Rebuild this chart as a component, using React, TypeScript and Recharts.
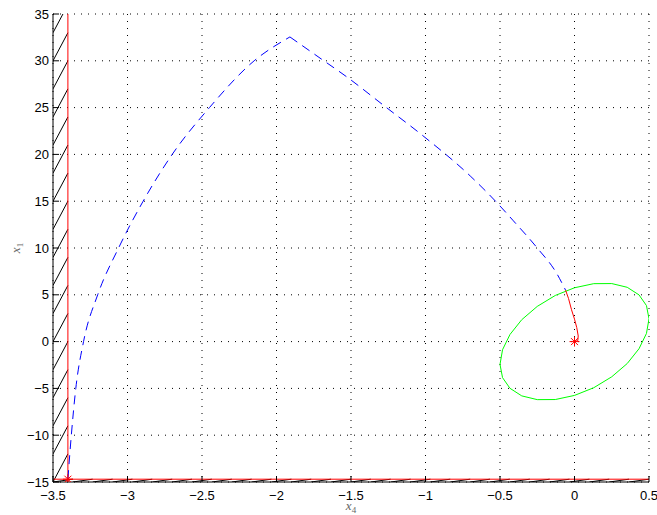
import React from 'react';
import { ComposedChart, Line, Scatter, XAxis, YAxis, CartesianGrid, ReferenceLine } from 'recharts';

// axis ticks
const xTicks = [-3.5, -3, -2.5, -2, -1.5, -1, -0.5, 0, 0.5];
const yTicks = [-15, -10, -5, 0, 5, 10, 15, 20, 25, 30, 35];

// constraint bounds
const x4Min = -3.4;
const x1Min = -14.7;

// hatch start positions
const leftHatchY = [-15, -12, -9, -6, -3, 0, 3, 6, 9, 12, 15, 18, 21, 24, 27, 30, 33];
const leftHatchRise = 3;
const bottomHatchX = [
  -3.5, -3.367, -3.233, -3.1, -2.967, -2.833, -2.7, -2.567, -2.433, -2.3, -2.167, -2.033, -1.9, -1.767, -1.633,
  -1.5, -1.367, -1.233, -1.1, -0.967, -0.833, -0.7, -0.567, -0.433, -0.3, -0.167, -0.033, 0.1, 0.233, 0.367,
];
const bottomHatchRun = 0.133;

// blue dashed trajectory, rising part then falling part
const blueUpX = [-3.4, -3.377, -3.347, -3.295, -3.2, -3.06, -2.895, -2.7, -2.45, -2.15, -1.91];
const blueUpY = [-14.7, -10, -5, 0, 5, 10, 15, 20, 25, 30, 32.55];
const blueDownX = [-1.91, -1.7, -1.53, -1.27, -1.01, -0.7, -0.53, -0.41, -0.25, -0.12, -0.06];
const blueDownY = [32.55, 30.2, 28.3, 25.1, 21.9, 17.7, 15, 12.9, 10, 7.3, 5.5];

// red final segment
const redX = [-0.06, -0.04, -0.02, 0.0, 0.015, 0.025, 0.022, 0.0];
const redY = [5.5, 4.6, 3.4, 2.4, 1.5, 0.6, 0.1, 0.0];

// green ellipse (terminal set)
const ellX = [0.5, 0.483, 0.433, 0.354, 0.25, 0.129, 0, -0.129, -0.25, -0.354, -0.433, -0.483, -0.5,
  -0.483, -0.433, -0.354, -0.25, -0.129, 0, 0.129, 0.25, 0.354, 0.433, 0.483, 0.5];
const ellY = [2.44, 3.85, 4.99, 5.8, 6.2, 6.19, 5.75, 4.93, 3.76, 2.34, 0.76, -0.87, -2.44,
  -3.85, -4.99, -5.8, -6.2, -6.19, -5.75, -4.93, -3.76, -2.34, -0.76, 0.87, 2.44];

// star markers
const starX = [0, -3.4];
const starY = [0, -14.7];

const zip = (xs: number[], ys: number[]) => xs.map((x, i) => ({ x, y: ys[i] }));
const blueUp = zip(blueUpX, blueUpY);
const blueDown = zip(blueDownX, blueDownY);
const redData = zip(redX, redY);
const ellData = zip(ellX, ellY);
const starData = zip(starX, starY);

const fmt = (v: number) => String(v).replace('-', '\u2212');
const tickFont = { fill: '#000', fontSize: 13, fontFamily: 'Liberation Sans, Arial, sans-serif' };

const Asterisk = (props: any) => {
  const { cx, cy } = props;
  const r = 5;
  const d = 3.5;
  return (
    <g stroke="#ff0000" strokeWidth={1}>
      <line x1={cx - r} y1={cy} x2={cx + r} y2={cy} />
      <line x1={cx} y1={cy - r} x2={cx} y2={cy + r} />
      <line x1={cx - d} y1={cy - d} x2={cx + d} y2={cy + d} />
      <line x1={cx - d} y1={cy + d} x2={cx + d} y2={cy - d} />
    </g>
  );
};

const XLabel = (props: any) => {
  const vb = props.viewBox || { x: 53, y: 482, width: 596, height: 33 };
  return (
    <text x={vb.x + vb.width / 2} y={vb.y + 28} textAnchor="middle" fill="#666"
      fontFamily="Liberation Serif, serif" fontStyle="italic" fontSize={13}>
      x<tspan fontSize={9} dy={3} fontStyle="normal">4</tspan>
    </text>
  );
};

const YLabel = (props: any) => {
  const vb = props.viewBox || { x: 8, y: 14, width: 45, height: 468 };
  const cx = vb.x + 12;
  const cy = vb.y + vb.height / 2;
  return (
    <text x={cx} y={cy} transform={`rotate(-90 ${cx} ${cy})`} textAnchor="middle" fill="#666"
      fontFamily="Liberation Serif, serif" fontStyle="italic" fontSize={13}>
      x<tspan fontSize={9} dy={3} fontStyle="normal">1</tspan>
    </text>
  );
};

export default function App() {
  return (
    <div style={{ width: 657, height: 515 }}>
      <style>{'body { margin: 0; overflow: hidden; }'}</style>
      <ComposedChart width={657} height={515} margin={{ top: 14, right: 8, left: 8, bottom: 0 }}>
        <CartesianGrid stroke="#000" strokeDasharray="1 6" />
        <XAxis type="number" dataKey="x" domain={[-3.5, 0.5]} ticks={xTicks} allowDataOverflow
          height={33} tickSize={-6} tickMargin={15} tickFormatter={fmt} tick={tickFont}
          stroke="#000" interval={0} label={{ content: XLabel }} />
        <XAxis xAxisId="top" orientation="top" type="number" dataKey="x" domain={[-3.5, 0.5]} ticks={xTicks}
          allowDataOverflow height={0} tickSize={-6} tick={false} stroke="#000" interval={0} />
        <YAxis type="number" dataKey="y" domain={[-15, 35]} ticks={yTicks} allowDataOverflow
          width={45} tickSize={-6} tickMargin={10} tickFormatter={fmt} tick={tickFont}
          stroke="#000" interval={0} label={{ content: YLabel }} />
        <YAxis yAxisId="right" orientation="right" type="number" dataKey="y" domain={[-15, 35]} ticks={yTicks}
          allowDataOverflow width={0} tickSize={-6} tick={false} stroke="#000" interval={0} />

        {leftHatchY.map((y) => (
          <ReferenceLine key={`lh${y}`} ifOverflow="hidden" stroke="#000" strokeWidth={1}
            segment={[{ x: -3.5, y }, { x: x4Min, y: y + leftHatchRise }]} />
        ))}
        {bottomHatchX.map((x) => (
          <ReferenceLine key={`bh${x}`} ifOverflow="hidden" stroke="#000" strokeWidth={1}
            segment={[{ x, y: -15 }, { x: x + bottomHatchRun, y: x1Min }]} />
        ))}
        <ReferenceLine x={x4Min} stroke="#ff0000" strokeWidth={1} />
        <ReferenceLine y={x1Min} stroke="#ff0000" strokeWidth={1} />

        <Line data={ellData} dataKey="y" type="linear" stroke="#00ff00" strokeWidth={1}
          dot={false} activeDot={false} isAnimationActive={false} />
        <Line data={blueUp} dataKey="y" type="monotoneX" stroke="#0000ff" strokeWidth={1}
          strokeDasharray="9 6" dot={false} activeDot={false} isAnimationActive={false} />
        <Line data={blueDown} dataKey="y" type="monotoneX" stroke="#0000ff" strokeWidth={1}
          strokeDasharray="9 6" dot={false} activeDot={false} isAnimationActive={false} />
        <Line data={redData} dataKey="y" type="linear" stroke="#ff0000" strokeWidth={1}
          dot={false} activeDot={false} isAnimationActive={false} />
        <Scatter data={starData} dataKey="y" shape={Asterisk} isAnimationActive={false} />
      </ComposedChart>
    </div>
  );
}
